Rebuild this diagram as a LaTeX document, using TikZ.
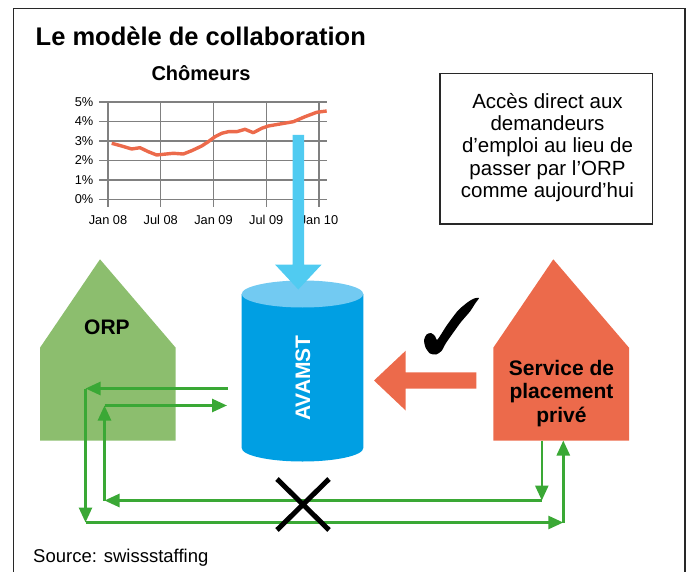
\documentclass[tikz,border=0pt]{standalone}
\usepackage{fontspec}
\setmainfont{Liberation Sans}
\usetikzlibrary{arrows.meta}
\definecolor{gridgray}{RGB}{128,128,128}
\definecolor{curveorange}{RGB}{236,106,75}
\definecolor{lightcyan}{RGB}{80,203,241}
\definecolor{cylbody}{RGB}{0,159,227}
\definecolor{cyltop}{RGB}{114,202,242}
\definecolor{orpgreen}{RGB}{140,190,110}
\definecolor{arrowgreen}{RGB}{58,168,53}
\definecolor{framegray}{RGB}{40,40,40}
\tikzset{
  gridline/.style={draw=gridgray,line width=1.3pt},
  axislabel/.style={font=\fontsize{12.8}{14}\selectfont,inner sep=0pt},
  garrow/.style={draw=arrowgreen,line width=2.6pt,-{Triangle[length=15pt,width=13pt]}},
  housetext/.style={font=\fontsize{21}{23.5}\selectfont\bfseries,align=center,inner sep=0pt},
}
\begin{document}
\begin{tikzpicture}[x=1pt,y=-1pt]
\useasboundingbox (0,0) rectangle (693,572);
% outer frame
\draw[framegray,line width=1.6pt] (13.5,590) -- (13.5,8.5) -- (685,8.5) -- (685,590);
% title
\node[anchor=base west,inner sep=0pt,font=\fontsize{25.5}{28}\selectfont\bfseries] (title) at (35.5,45.5) {Le modèle de collaboration};
% chart title
\node[font=\fontsize{20}{22}\selectfont\bfseries,inner sep=0pt] (charttitle) at (201,73) {Chômeurs};
% grid
\foreach \k in {0,...,5} {
  \draw[gridline] (99,{102+19.5*\k}) -- (327,{102+19.5*\k});
}
\foreach \xx in {108,160.7,213.5,266.3,319} {
  \draw[gridline] (\xx,102) -- (\xx,207);
}
\foreach \lab [count=\i from 0] in {0\%,1\%,2\%,3\%,4\%,5\%} {
  \node[axislabel,anchor=east] (yl\i) at (93.5,{199.5-19.5*\i}) {\lab};
}
\foreach \xx/\lab [count=\i] in {108/Jan 08,160.7/Jul 08,213.5/Jan 09,266.3/Jul 09,319/Jan 10} {
  \node[axislabel] (xl\i) at (\xx,220) {\lab};
}
% curve
\draw[curveorange,line width=3.4pt,line join=round] (111.7,143.3) -- (121.7,146) -- (131.7,149) -- (140,147.7) -- (148.3,151.7) -- (156.7,155) -- (163.3,154.3) -- (173.3,153.3) -- (183.3,154) -- (191.7,150.7) -- (201.7,146) -- (208.3,141.7) -- (215,136.7) -- (221.7,133.3) -- (228.3,131.7) -- (236.7,131.7) -- (245,129.3) -- (253.3,132.7) -- (261.7,128.3) -- (268.3,126) -- (280,124) -- (293.3,121.7) -- (305,116.7) -- (316.7,112.3) -- (326.7,111);
% text box
\draw[framegray,line width=1.3pt] (440,73.5) rectangle (652.3,224);
\node[font=\fontsize{20.5}{22.2}\selectfont,align=center,inner sep=0pt] (note) at (547.5,147.5) {Accès direct aux\\demandeurs\\d’emploi au lieu de\\passer par l’ORP\\comme aujourd’hui};
% cylinder AVAMST
\fill[cylbody] (241.7,294) -- (241.7,448) arc[start angle=180,end angle=0,x radius=60.8,y radius=13.5] -- (363.3,294) -- cycle;
\fill[cyltop] (302.5,294) ellipse[x radius=60.8,y radius=13.5];
\node[rotate=90,text=white,font=\fontsize{21}{23}\selectfont\bfseries,inner sep=0pt] (avamst) at (303,378) {AVAMST};
% light blue arrow
\fill[lightcyan] (292.5,135) -- (304,135) -- (304,264.5) -- (321.7,264.5) -- (298.3,289.5) -- (275,264.5) -- (292.5,264.5) -- cycle;
% ORP house
\fill[orpgreen] (40,347.7) -- (100,259.3) -- (175.7,347.7) -- (175.7,440.7) -- (40,440.7) -- cycle;
\node[housetext] (orp) at (107,327.5) {ORP};
% private service house
\fill[curveorange] (493.3,347.7) -- (553.3,259.3) -- (629,347.7) -- (629,440.5) -- (493.3,440.5) -- cycle;
\node[housetext] (prive) at (561.5,393.5) {Service de\\placement\\privé};
% orange big arrow
\fill[curveorange] (374,380.5) -- (405.7,350.7) -- (405.7,372.3) -- (476.3,372.3) -- (476.3,388.7) -- (405.7,388.7) -- (405.7,410.5) -- cycle;
% check mark (drawn shape)
\fill[black] plot[smooth cycle,tension=0.4] coordinates {
  (479,298) (475.5,303) (470,311.5) (461,322) (453,333) (446,343) (441.5,351)
  (436,354.5) (430,353.5) (425.5,347.5) (424,340) (426.5,334.5) (431,333)
  (435,336) (437.5,339.5) (446.7,325.5) (458,310.5) (468,302) (474,298.5)
};
% green connectors
\coordinate (a1) at (228,388.5);
\coordinate (c1) at (85.5,388.5);
\coordinate (c2) at (85.5,522.5);
\coordinate (c3) at (563.3,522.5);
\coordinate (p1) at (563.3,440.5);
\coordinate (b1) at (104.5,405.5);
\coordinate (b2) at (227,405.5);
\coordinate (b3) at (104.5,500.5);
\coordinate (b4) at (541.8,500.5);
\coordinate (p2) at (541.8,440.5);
\draw[garrow] (a1) -- (c1);
\draw[garrow] (c1) -- (c2);
\draw[garrow] (c2) -- (c3);
\draw[garrow] (c3) -- (p1);
\draw[garrow] (b1) -- (b2);
\draw[garrow] (b3) -- (b1);
\draw[garrow] (b4) -- (b3);
\draw[garrow] (p2) -- (b4);
% cross
\coordinate (x1) at (277,479);
\coordinate (x2) at (329,530);
\coordinate (x3) at (329,479);
\coordinate (x4) at (277,530);
\draw[black,line width=5pt] (x1) -- (x2);
\draw[black,line width=5pt] (x3) -- (x4);
% source
\node[anchor=base west,inner sep=0pt,font=\fontsize{18.5}{20}\selectfont] (source) at (33,562) {Source: swissstaffing};
\end{tikzpicture}
\end{document}
